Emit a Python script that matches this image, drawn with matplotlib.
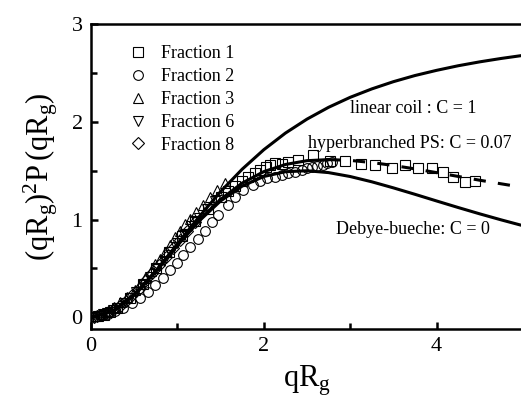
import numpy as np
import matplotlib
matplotlib.use("Agg")
import matplotlib.pyplot as plt

plt.rcParams['font.family'] = ['Liberation Serif', 'DejaVu Serif']
plt.rcParams['mathtext.fontset'] = 'custom'
plt.rcParams['mathtext.rm'] = 'Liberation Serif'
plt.rcParams['mathtext.it'] = 'Liberation Serif'
plt.rcParams['mathtext.bf'] = 'Liberation Serif:bold'

# Kratky curves (qRg)^2 P(qRg) for the three C values
curve_x = [0, 0.25, 0.5, 0.75, 1.0, 1.25, 1.5, 1.75, 2.0, 2.25, 2.5, 2.75,
           3.0, 3.25, 3.5, 3.75, 4.0, 4.25, 4.5, 4.75, 5.0]
coil_y = [0, 0.061, 0.231, 0.474, 0.750, 1.027, 1.286, 1.515, 1.714, 1.884, 2.027,
          2.148, 2.250, 2.336, 2.410, 2.473, 2.526, 2.573, 2.613, 2.648, 2.679]
hyper_y = [0, 0.061, 0.231, 0.471, 0.737, 0.991, 1.206, 1.373, 1.490, 1.563, 1.602,
           1.613, 1.605, 1.583, 1.553, 1.518, 1.480, 1.441, 1.402, 1.365, 1.329]
debye_y = [0, 0.061, 0.230, 0.470, 0.735, 0.984, 1.190, 1.342, 1.440, 1.489, 1.499,
           1.480, 1.440, 1.386, 1.324, 1.258, 1.190, 1.123, 1.058, 0.996, 0.937]

# measured fractions
f1_x = [0.08, 0.15, 0.22, 0.30, 0.45, 0.60, 0.75, 0.90, 1.05, 1.20, 1.35, 1.50,
        1.59, 1.67, 1.75, 1.82, 1.90, 1.96, 2.02, 2.07, 2.13, 2.21, 2.28, 2.40,
        2.57, 2.77, 2.94, 3.12, 3.29, 3.49, 3.64, 3.79, 3.95, 4.07, 4.19, 4.33, 4.45]
f1_y = [0.01, 0.02, 0.05, 0.09, 0.20, 0.34, 0.50, 0.67, 0.83, 0.98, 1.11, 1.23,
        1.29, 1.34, 1.39, 1.44, 1.48, 1.51, 1.54, 1.56, 1.58, 1.57, 1.59, 1.61,
        1.66, 1.60, 1.60, 1.57, 1.56, 1.53, 1.56, 1.53, 1.53, 1.49, 1.44, 1.38, 1.39]

f2_x = [0.20, 0.28, 0.37, 0.47, 0.57, 0.66, 0.74, 0.83, 0.92, 1.00, 1.07, 1.15,
        1.24, 1.32, 1.40, 1.47, 1.58, 1.67, 1.76, 1.87, 1.96, 2.04, 2.13, 2.21,
        2.28, 2.36, 2.44, 2.50, 2.56, 2.62, 2.68, 2.73, 2.79]
f2_y = [0.03, 0.06, 0.10, 0.15, 0.20, 0.26, 0.33, 0.40, 0.48, 0.56, 0.64, 0.72,
        0.80, 0.88, 0.97, 1.05, 1.15, 1.23, 1.30, 1.35, 1.39, 1.42, 1.44, 1.46,
        1.48, 1.49, 1.51, 1.53, 1.54, 1.55, 1.56, 1.58, 1.59]

f3_x = [0.05, 0.12, 0.20, 0.27, 0.34, 0.42, 0.51, 0.57, 0.63, 0.69, 0.74, 0.80,
        0.86, 0.92, 0.97, 1.03, 1.09, 1.15, 1.22, 1.30, 1.38, 1.46, 1.55]
f3_y = [0.01, 0.03, 0.06, 0.11, 0.16, 0.21, 0.28, 0.34, 0.40, 0.47, 0.54, 0.60,
        0.67, 0.74, 0.82, 0.88, 0.95, 1.01, 1.08, 1.15, 1.23, 1.30, 1.37]

f6_x = [0.04, 0.09, 0.14, 0.19, 0.25, 0.31, 0.38, 0.45, 0.52, 0.60, 0.68, 0.76,
        0.84, 0.92, 1.00, 1.08, 1.16, 1.25, 1.34, 1.43]
f6_y = [0.00, 0.01, 0.03, 0.04, 0.07, 0.10, 0.15, 0.20, 0.26, 0.33, 0.41, 0.49,
        0.58, 0.67, 0.76, 0.84, 0.93, 1.02, 1.11, 1.19]

f8_x = [0.03, 0.07, 0.11, 0.16, 0.21, 0.27, 0.33, 0.40, 0.47, 0.55, 0.63, 0.71,
        0.79, 0.87, 0.95, 1.03, 1.11, 1.20]
f8_y = [0.00, 0.01, 0.02, 0.03, 0.05, 0.08, 0.12, 0.17, 0.23, 0.29, 0.37, 0.45,
        0.53, 0.62, 0.71, 0.79, 0.88, 0.97]

fractions = [
    (f1_x, f1_y, 's', 7.0, 'Fraction 1'),
    (f2_x, f2_y, 'o', 7.0, 'Fraction 2'),
    (f3_x, f3_y, '^', 7.5, 'Fraction 3'),
    (f6_x, f6_y, 'v', 7.5, 'Fraction 6'),
    (f8_x, f8_y, 'D', 6.0, 'Fraction 8'),
]

fig = plt.figure(figsize=(5.21, 4.03), dpi=100)
ax = fig.add_axes([0.1747, 0.1836, 0.829, 0.7568])

for xs, ys, mk, ms, lab in fractions:
    ax.plot(xs, ys, linestyle='none', marker=mk, markersize=ms,
            markerfacecolor='none', markeredgecolor='black',
            markeredgewidth=0.8, label=lab)

ax.plot(curve_x, coil_y, color='black', lw=2.2)
ax.plot(curve_x, debye_y, color='black', lw=2.2)
# hyperbranched curve: solid under the data, dashed beyond
ax.plot(curve_x[:12], hyper_y[:12], color='black', lw=2.2)
ax.plot(curve_x[11:], hyper_y[11:], color='black', lw=2.2, linestyle=(0, (4, 4)))

ax.text(3.73, 2.14, 'linear coil : C = 1', fontsize=13, ha='center', va='center')
ax.text(3.69, 1.78, 'hyperbranched PS: C = 0.07', fontsize=13, ha='center', va='center')
ax.text(3.73, 0.90, 'Debye-bueche: C = 0', fontsize=13, ha='center', va='center')

ax.set_xlim(0, 5)
ax.set_ylim(-0.12, 3)
ax.set_xticks([0, 2, 4])
ax.set_xticks([1, 3], minor=True)
ax.set_yticks([0, 1, 2, 3])
ax.set_yticks([0.5, 1.5, 2.5], minor=True)
ax.tick_params(which='both', direction='in', width=1.8, labelsize=16, pad=6)
ax.tick_params(which='major', length=5)
ax.tick_params(which='minor', length=4)
ax.tick_params(axis='x', top=False)
ax.tick_params(axis='y', right=False)
for side in ['left', 'bottom', 'top']:
    ax.spines[side].set_linewidth(1.8)
ax.spines['right'].set_visible(False)

ax.set_xlabel(r'$\mathrm{qR_g}$', fontsize=22, labelpad=5)
ax.set_ylabel(r'$\mathrm{(qR_g)^2P\,(qR_g)}$', fontsize=22, labelpad=8)

leg = ax.legend(loc='upper left', bbox_to_anchor=(0.07, 0.955), frameon=False,
                fontsize=13, handlelength=1.0, handletextpad=0.8,
                labelspacing=0.33, borderaxespad=0)

fig.savefig('out.png', dpi=100)
